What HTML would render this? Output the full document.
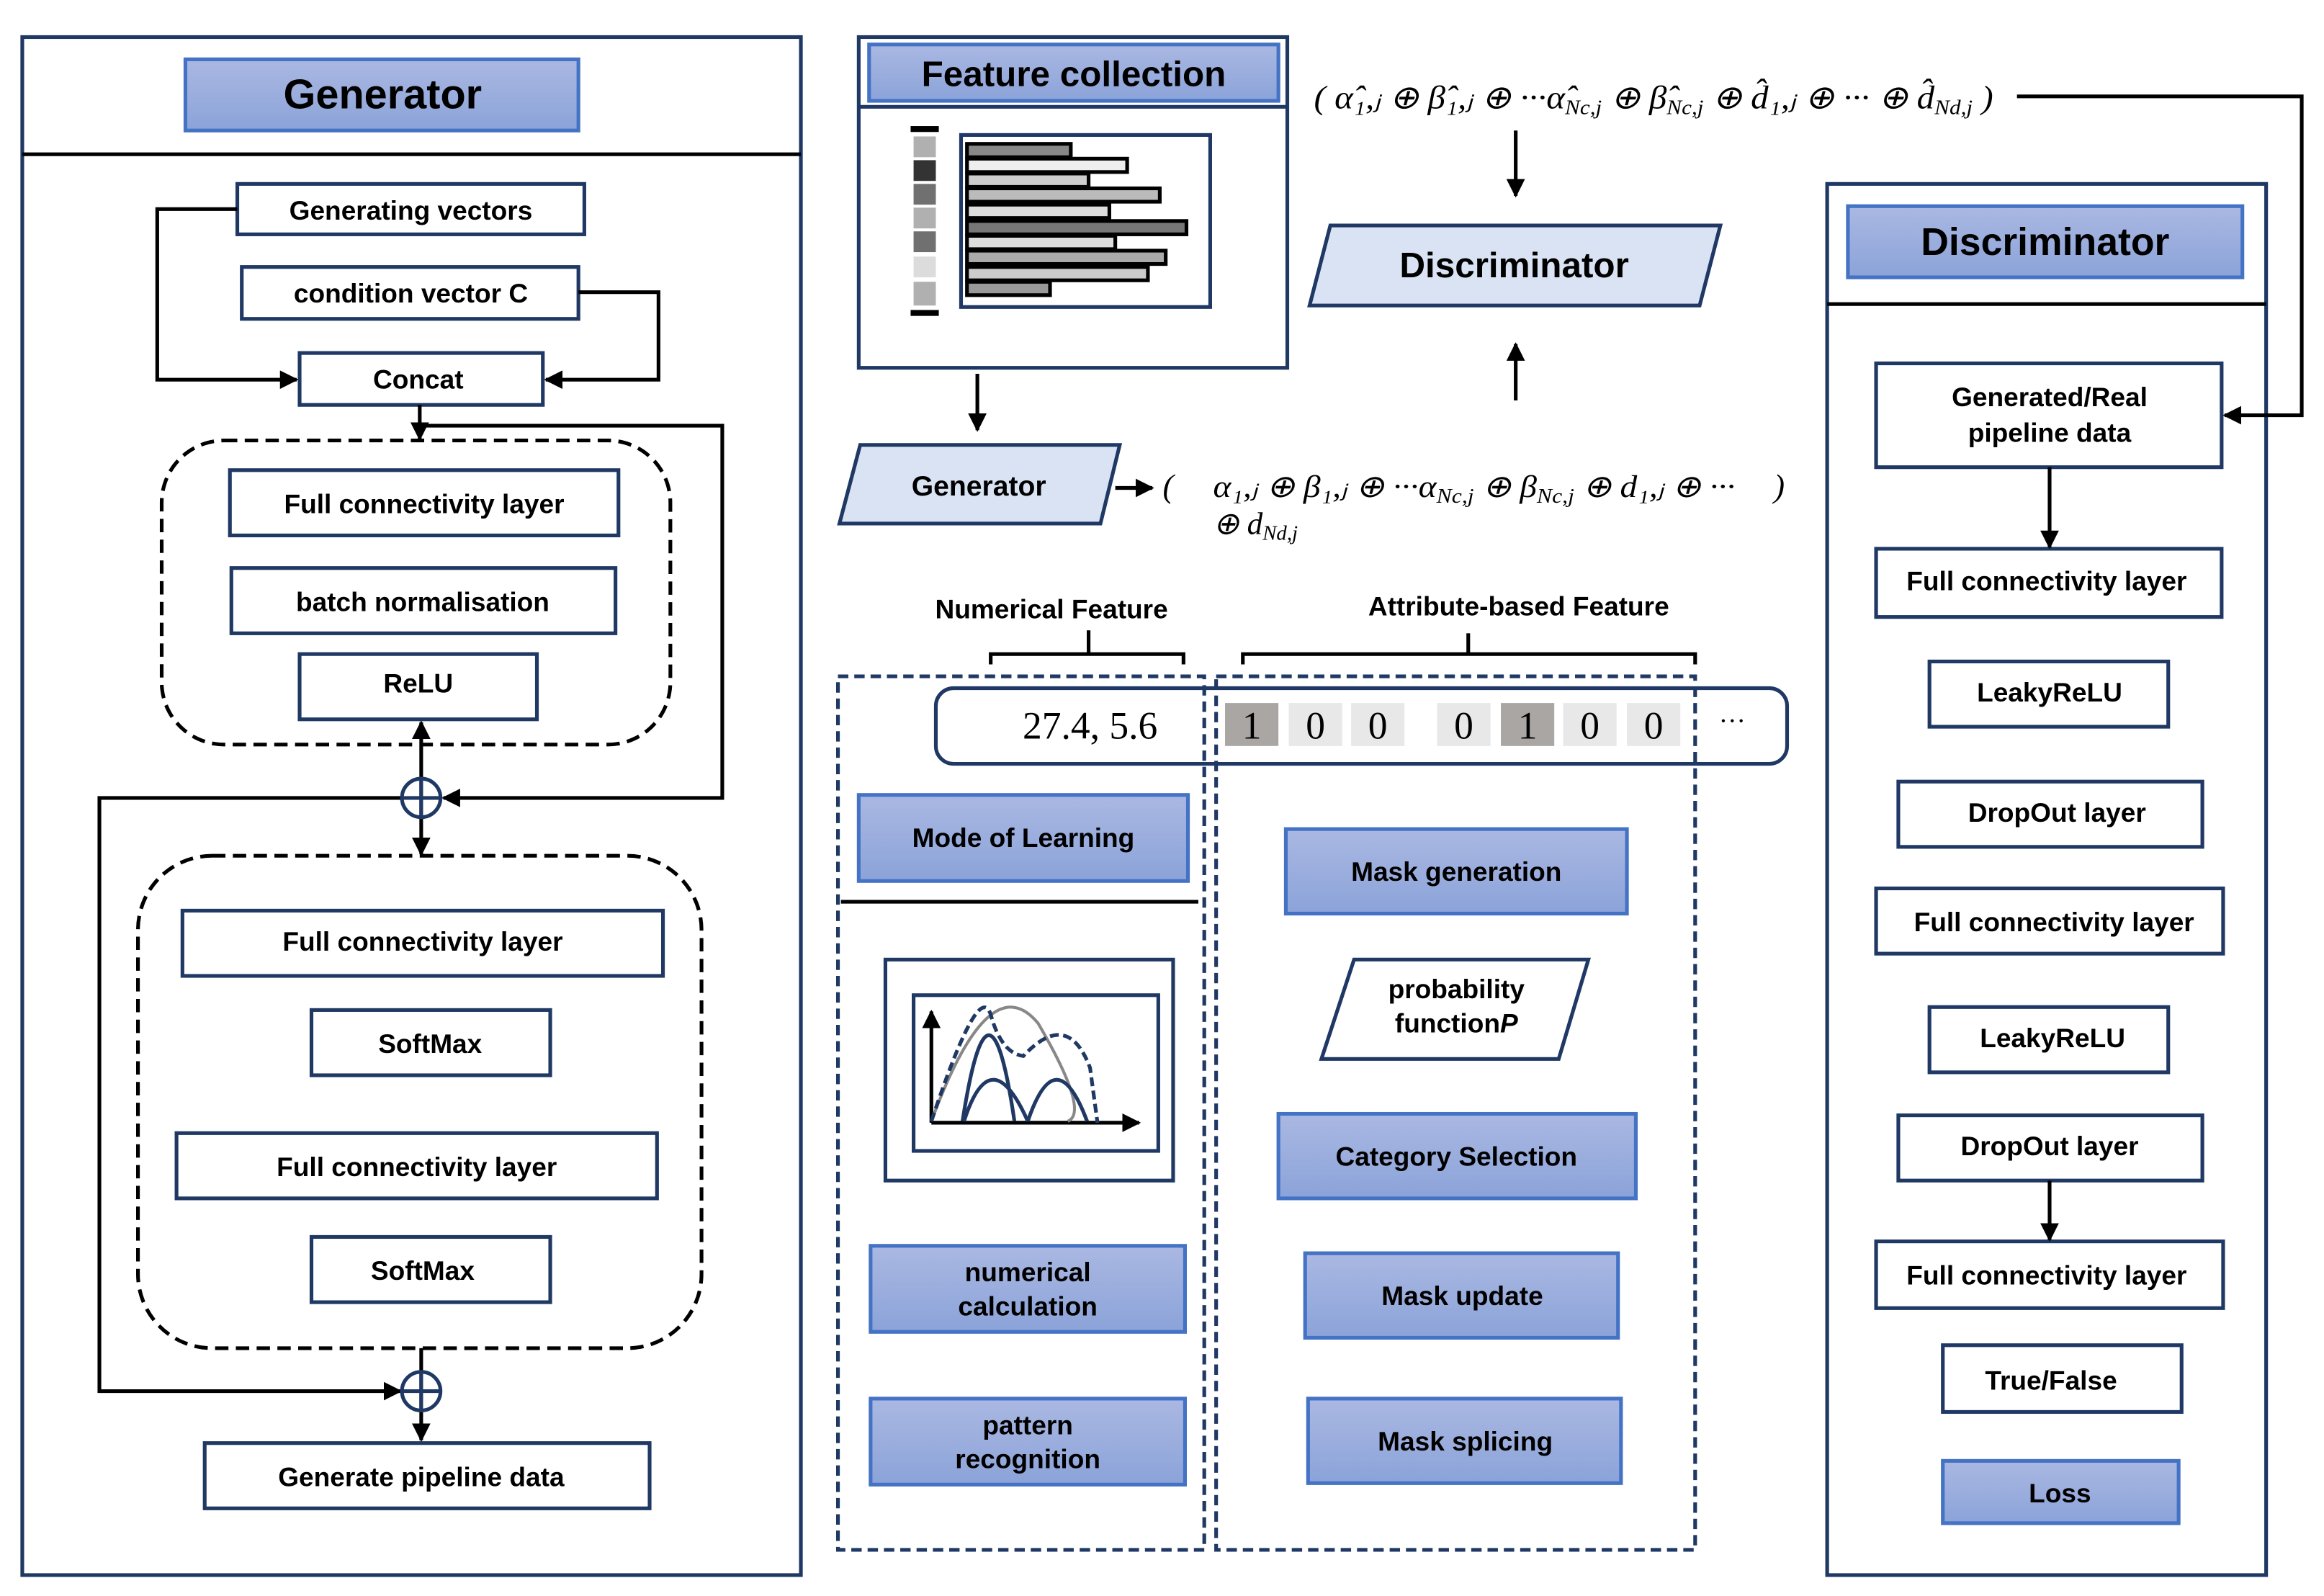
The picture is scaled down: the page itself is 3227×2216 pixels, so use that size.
<!DOCTYPE html>
<html><head><meta charset="utf-8"><style>
html,body{margin:0;padding:0;background:#fff;}
svg{display:block;}
text{font-family:"Liberation Sans",sans-serif;font-weight:bold;fill:#000;}
.m{font-family:"Liberation Serif",serif;font-style:italic;font-weight:normal;}
</style></head><body>
<svg width="3227" height="2216" viewBox="0 0 1567 1076.1" xmlns="http://www.w3.org/2000/svg">
<defs>
<linearGradient id="bg" x1="0" y1="0" x2="0" y2="1"><stop offset="0" stop-color="#aab8e2"/><stop offset="1" stop-color="#8ba3d9"/></linearGradient>
<marker id="ar" viewBox="0 0 10 10" refX="9" refY="5" markerWidth="5" markerHeight="5" orient="auto"><path d="M0,0L10,5L0,10z" fill="#000"/></marker>
</defs>
<g fill="none" stroke="#1f3864" stroke-width="2.5">
<rect x="15" y="25" width="525" height="1037"/>
<line x1="15" y1="104" x2="540" y2="104" stroke="#000"/>
<rect x="160" y="124" width="234" height="34"/>
<rect x="163" y="180" width="227" height="35"/>
<rect x="202" y="238" width="164" height="35"/>
<rect x="155" y="317" width="262" height="44"/>
<rect x="156" y="383" width="259" height="44"/>
<rect x="202" y="441" width="160" height="44"/>
<rect x="123" y="614" width="324" height="44"/>
<rect x="210" y="681" width="161" height="44"/>
<rect x="119" y="764" width="324" height="44"/>
<rect x="210" y="834" width="161" height="44"/>
<rect x="138" y="973" width="300" height="44"/>
<rect x="579" y="25" width="289" height="223"/>
<line x1="579" y1="72" x2="868" y2="72"/>
<rect x="648" y="91" width="168" height="116"/>
<rect x="631" y="464" width="574" height="51" rx="12"/>
<line x1="567" y1="608" x2="808" y2="608" stroke="#000"/>
<rect x="597" y="647" width="194" height="149"/>
<rect x="616" y="671" width="165" height="105"/>
<polygon points="913,647 1071,647 1051,714 891,714"/>
<rect x="1232" y="124" width="296" height="938"/>
<line x1="1232" y1="205" x2="1528" y2="205" stroke="#000"/>
<rect x="1265" y="245" width="233" height="70"/>
<rect x="1265" y="370" width="233" height="46"/>
<rect x="1301" y="446" width="161" height="44"/>
<rect x="1280" y="527" width="205" height="44"/>
<rect x="1265" y="599" width="234" height="44"/>
<rect x="1301" y="679" width="161" height="44"/>
<rect x="1280" y="752" width="205" height="44"/>
<rect x="1265" y="837" width="234" height="45"/>
<rect x="1310" y="907" width="161" height="45"/>
</g>
<g fill="none" stroke-width="2.5" stroke-dasharray="9,5">
<rect x="109" y="297" width="343" height="205" rx="42" stroke="#000"/>
<rect x="93" y="577" width="380" height="332" rx="50" stroke="#000"/>
<rect x="565" y="456" width="247" height="589" stroke="#1f3864" stroke-dasharray="7,4"/>
<rect x="820" y="456" width="323" height="589" stroke="#1f3864" stroke-dasharray="7,4"/>
</g>
<g fill="url(#bg)" stroke="#4472c4" stroke-width="2.5">
<rect x="125" y="40" width="265" height="48"/>
<rect x="586" y="30" width="276" height="38"/>
<rect x="1246" y="139" width="266" height="48"/>
<rect x="579" y="536" width="222" height="58"/>
<rect x="587" y="840" width="212" height="58"/>
<rect x="587" y="943" width="212" height="58"/>
<rect x="867" y="559" width="230" height="57"/>
<rect x="862" y="751" width="241" height="57"/>
<rect x="880" y="845" width="211" height="57"/>
<rect x="882" y="943" width="211" height="57"/>
<rect x="1310" y="985" width="159" height="42"/>
</g>
<g fill="#dae3f3" stroke="#1f3864" stroke-width="2.5">
<polygon points="897,152 1160,152 1146,206 883,206"/>
<polygon points="580,300 755,300 742,353 566,353"/>
</g>
<g fill="none" stroke="#000" stroke-width="2.5">
<polyline points="160,141 106,141 106,256 200,256" marker-end="url(#ar)"/>
<polyline points="390,197 444,197 444,256 368,256" marker-end="url(#ar)"/>
<line x1="283" y1="273" x2="283" y2="296" marker-end="url(#ar)"/>
<polyline points="283,287 487,287 487,538 299,538" marker-end="url(#ar)"/>
<line x1="284" y1="538" x2="284" y2="487" marker-end="url(#ar)"/>
<line x1="284" y1="538" x2="284" y2="576" marker-end="url(#ar)"/>
<polyline points="271,538 67,538 67,938 270,938" marker-end="url(#ar)"/>
<line x1="284" y1="909" x2="284" y2="971" marker-end="url(#ar)"/>
<line x1="1022" y1="88" x2="1022" y2="132" marker-end="url(#ar)"/>
<line x1="1022" y1="270" x2="1022" y2="232" marker-end="url(#ar)"/>
<line x1="659" y1="252" x2="659" y2="290" marker-end="url(#ar)"/>
<line x1="752" y1="329" x2="777" y2="329" marker-end="url(#ar)"/>
<polyline points="1360,65 1552,65 1552,280 1500,280" marker-end="url(#ar)"/>
<line x1="1382" y1="315" x2="1382" y2="369" marker-end="url(#ar)"/>
<line x1="1382" y1="796" x2="1382" y2="836" marker-end="url(#ar)"/>
<polyline points="668,448 668,441 798,441 798,448"/>
<line x1="734" y1="441" x2="734" y2="425"/>
<polyline points="838,448 838,441 1143,441 1143,448"/>
<line x1="990" y1="441" x2="990" y2="427"/>
</g>
<g fill="none" stroke="#1f3864" stroke-width="2.5">
<circle cx="284" cy="538" r="13"/><line x1="271" y1="538" x2="297" y2="538"/><line x1="284" y1="525" x2="284" y2="551"/>
<circle cx="284" cy="938" r="13"/><line x1="271" y1="938" x2="297" y2="938"/><line x1="284" y1="925" x2="284" y2="951"/>
</g>
<g stroke="#000" stroke-width="2.5">
<rect x="616" y="92" width="15" height="14" fill="#b0b0b0" stroke="none"/>
<rect x="616" y="108" width="15" height="14" fill="#333" stroke="none"/>
<rect x="616" y="124" width="15" height="14" fill="#707070" stroke="none"/>
<rect x="616" y="140" width="15" height="14" fill="#b0b0b0" stroke="none"/>
<rect x="616" y="156" width="15" height="14" fill="#707070" stroke="none"/>
<rect x="616" y="173" width="15" height="14" fill="#dcdcdc" stroke="none"/>
<rect x="616" y="190" width="15" height="16" fill="#b0b0b0" stroke="none"/>
<rect x="614" y="85" width="19" height="4" fill="#000" stroke="none"/>
<rect x="614" y="209" width="19" height="4" fill="#000" stroke="none"/>
<rect x="652" y="97" width="70" height="9" fill="#888"/>
<rect x="652" y="107" width="108" height="9" fill="#eee"/>
<rect x="652" y="117" width="82" height="9" fill="#ccc"/>
<rect x="652" y="127" width="130" height="9" fill="#bbb"/>
<rect x="652" y="138" width="96" height="9" fill="#ddd"/>
<rect x="652" y="149" width="148" height="9" fill="#777"/>
<rect x="652" y="159" width="100" height="9" fill="#ddd"/>
<rect x="652" y="169" width="134" height="9" fill="#aaa"/>
<rect x="652" y="180" width="122" height="9" fill="#ccc"/>
<rect x="652" y="190" width="56" height="9" fill="#999"/>
</g>
<g fill="none" stroke-width="2.5">
<line x1="628" y1="757" x2="628" y2="682" stroke="#000" marker-end="url(#ar)"/>
<line x1="628" y1="757" x2="768" y2="757" stroke="#000" marker-end="url(#ar)"/>
<path d="M628,756 Q667,650 700,690 Q735,750 720,756" stroke="#888" stroke-width="2"/>
<path d="M628,756 Q660,660 668,684 Q675,710 690,712 Q720,680 735,720 L740,757" stroke="#1f3864" stroke-dasharray="6,3"/>
<path d="M649,756 Q667,640 684,756" stroke="#1f3864"/>
<path d="M650,756 Q668,700 693,756" stroke="#1f3864"/>
<path d="M693,756 Q712,700 733,756" stroke="#1f3864"/>
</g>
<g stroke="none">
<rect x="826" y="474" width="36" height="29" fill="#aaa6a4"/>
<rect x="869" y="474" width="36" height="29" fill="#e8e8e8"/>
<rect x="911" y="474" width="36" height="29" fill="#e8e8e8"/>
<rect x="969" y="474" width="36" height="29" fill="#e8e8e8"/>
<rect x="1012" y="474" width="36" height="29" fill="#aaa6a4"/>
<rect x="1054" y="474" width="36" height="29" fill="#e8e8e8"/>
<rect x="1097" y="474" width="36" height="29" fill="#e8e8e8"/>
</g>
<g font-size="26" text-anchor="middle">
<text x="735" y="498" style="font-family:'Liberation Serif',serif;font-weight:normal">27.4,  5.6</text>
<text x="844" y="498" style="font-family:'Liberation Serif',serif;font-weight:normal">1</text>
<text x="887" y="498" style="font-family:'Liberation Serif',serif;font-weight:normal">0</text>
<text x="929" y="498" style="font-family:'Liberation Serif',serif;font-weight:normal">0</text>
<text x="987" y="498" style="font-family:'Liberation Serif',serif;font-weight:normal">0</text>
<text x="1030" y="498" style="font-family:'Liberation Serif',serif;font-weight:normal">1</text>
<text x="1072" y="498" style="font-family:'Liberation Serif',serif;font-weight:normal">0</text>
<text x="1115" y="498" style="font-family:'Liberation Serif',serif;font-weight:normal">0</text>
<text x="1168" y="492" font-size="18" style="font-family:'Liberation Serif',serif;font-weight:normal">···</text>
</g>
<text x="886" y="73" class="m" font-size="22" textLength="458" lengthAdjust="spacingAndGlyphs">( α̂₁,ⱼ ⊕ β̂₁,ⱼ ⊕ ···α̂<tspan font-size="14" dy="4">Nc,j</tspan><tspan dy="-4"> ⊕ β̂</tspan><tspan font-size="14" dy="4">Nc,j</tspan><tspan dy="-4"> ⊕ d̂₁,ⱼ ⊕ ··· ⊕ d̂</tspan><tspan font-size="14" dy="4">Nd,j</tspan><tspan dy="-4"> )</tspan></text>
<text x="784" y="335" class="m" font-size="22">(</text>
<text x="818" y="335" class="m" font-size="21" textLength="352" lengthAdjust="spacingAndGlyphs">α₁,ⱼ ⊕ β₁,ⱼ ⊕ ···α<tspan font-size="14" dy="4">Nc,j</tspan><tspan dy="-4"> ⊕ β</tspan><tspan font-size="14" dy="4">Nc,j</tspan><tspan dy="-4"> ⊕ d₁,ⱼ ⊕ ···</tspan></text>
<text x="1196" y="335" class="m" font-size="22">)</text>
<text x="818" y="360" class="m" font-size="21">⊕ d<tspan font-size="14" dy="4">Nd,j</tspan></text>
<g text-anchor="middle" font-size="18">
<text x="258" y="73" font-size="28">Generator</text>
<text x="277" y="148">Generating vectors</text>
<text x="277" y="204">condition vector C</text>
<text x="282" y="262">Concat</text>
<text x="286" y="346">Full connectivity layer</text>
<text x="285" y="412">batch normalisation</text>
<text x="282" y="467">ReLU</text>
<text x="285" y="641">Full connectivity layer</text>
<text x="290" y="710">SoftMax</text>
<text x="281" y="793">Full connectivity layer</text>
<text x="285" y="863">SoftMax</text>
<text x="284" y="1002">Generate pipeline data</text>
<text x="724" y="58" font-size="24">Feature collection</text>
<text x="1021" y="187" font-size="24">Discriminator</text>
<text x="660" y="334" font-size="19">Generator</text>
<text x="709" y="417">Numerical Feature</text>
<text x="1024" y="415">Attribute-based Feature</text>
<text x="690" y="571">Mode of Learning</text>
<text x="693" y="864">numerical</text>
<text x="693" y="887">calculation</text>
<text x="693" y="967">pattern</text>
<text x="693" y="990">recognition</text>
<text x="982" y="594">Mask generation</text>
<text x="982" y="673">probability</text>
<text x="982" y="696">function<tspan style="font-style:italic">P</tspan></text>
<text x="982" y="786">Category Selection</text>
<text x="986" y="880">Mask update</text>
<text x="988" y="978">Mask splicing</text>
<text x="1379" y="172" font-size="26">Discriminator</text>
<text x="1382" y="274">Generated/Real</text>
<text x="1382" y="298">pipeline data</text>
<text x="1380" y="398">Full connectivity layer</text>
<text x="1382" y="473">LeakyReLU</text>
<text x="1387" y="554">DropOut layer</text>
<text x="1385" y="628">Full connectivity layer</text>
<text x="1384" y="706">LeakyReLU</text>
<text x="1382" y="779">DropOut layer</text>
<text x="1380" y="866">Full connectivity layer</text>
<text x="1383" y="937">True/False</text>
<text x="1389" y="1013">Loss</text>
</g>
</svg>
</body></html>
